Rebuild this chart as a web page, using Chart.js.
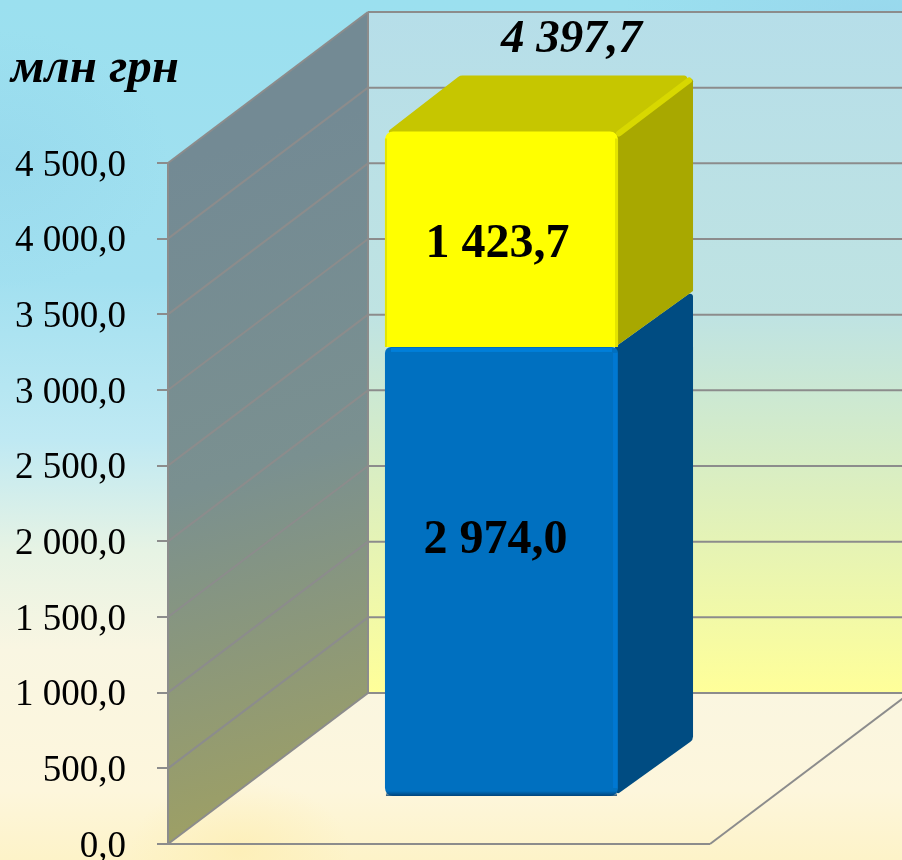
<!DOCTYPE html>
<html>
<head>
<meta charset="utf-8">
<style>
html,body{margin:0;padding:0;width:902px;height:860px;overflow:hidden}
body{background:
 radial-gradient(ellipse 110px 70px at 240px 850px,rgba(253,236,170,.55),rgba(253,236,170,0)),
 radial-gradient(ellipse 170px 130px at 0px 160px,rgba(140,205,232,.3),rgba(140,205,232,0)),
 radial-gradient(ellipse 260px 110px at 880px 20px,rgba(150,210,235,.6),rgba(150,210,235,0)),
 linear-gradient(180deg,#9be0ef 0px,#a2e0f0 280px,#bfe9f3 440px,#e6f3e4 550px,#f9f6e2 650px,#fdf6dc 790px,#fdf3c8 860px)}
canvas{display:block}
</style>
</head>
<body>
<canvas id="c" width="902" height="860"></canvas>
<script src="https://cdn.jsdelivr.net/npm/chart.js@4"></script>
<script>
const categories = ["2020"];
const blueValues = [2974.0];
const yellowValues = [1423.7];
const totalLabel = "4 397,7";
const blueLabel = "2 974,0";
const yellowLabel = "1 423,7";
const unitLabel = "млн грн";
const tickLabels = ["0,0","500,0","1 000,0","1 500,0","2 000,0","2 500,0","3 000,0","3 500,0","4 000,0","4 500,0"];

const WALL = {dx:200, dy:-151};
const BAR = {ox:62.5, oy:-47, dx:75, dy:-56};
const GRID = "#8c8c8c";
const SERIF = '"Liberation Serif","Times New Roman",serif';

function roundedPoly(ctx, pts, r){
  const n = pts.length;
  ctx.beginPath();
  const s = [(pts[0][0]+pts[n-1][0])/2,(pts[0][1]+pts[n-1][1])/2];
  ctx.moveTo(s[0],s[1]);
  for(let i=0;i<n;i++){
    const a = pts[i], b = pts[(i+1)%n];
    ctx.arcTo(a[0],a[1],b[0],b[1],r[i]);
  }
  ctx.closePath();
}
function line(ctx,x1,y1,x2,y2){ctx.beginPath();ctx.moveTo(x1,y1);ctx.lineTo(x2,y2);ctx.stroke();}

const scene = {
  id:"scene",
  beforeDraw(chart){
    const {ctx,chartArea:a,scales:{y}} = chart;
    const L=a.left, R=a.right, B=a.bottom, T=a.top;
    const bl=L+WALL.dx, bt=T+WALL.dy, bb=B+WALL.dy;
    ctx.save();
    let g=ctx.createLinearGradient(0,bt,0,bb);
    g.addColorStop(0,"#b6dee9");g.addColorStop(.45,"#bfe3e2");g.addColorStop(.7,"#dcefbf");g.addColorStop(1,"#ffff99");
    ctx.fillStyle=g;ctx.fillRect(bl,bt,R+WALL.dx-bl,bb-bt);
    g=ctx.createLinearGradient(L,T,bl,B);
    g.addColorStop(0,"#738a94");g.addColorStop(.45,"#7a9090");g.addColorStop(1,"#a3a25e");
    ctx.fillStyle=g;
    ctx.beginPath();ctx.moveTo(L,B);ctx.lineTo(L,T);ctx.lineTo(bl,bt);ctx.lineTo(bl,bb);ctx.closePath();ctx.fill();
    ctx.strokeStyle=GRID;ctx.lineWidth=2;
    y.ticks.forEach(t=>{
      const p=y.getPixelForValue(t.value);
      line(ctx,L,p,bl,p+WALL.dy);
      line(ctx,bl,p+WALL.dy,R+WALL.dx,p+WALL.dy);
    });
    line(ctx,L,T,L,B+1);
    line(ctx,bl,bt,bl,bb);
    line(ctx,L,B,R,B);
    line(ctx,R,B,R+WALL.dx,bb);
    ctx.restore();
  },
  beforeDatasetsDraw(chart){
    const ctx=chart.ctx;
    ctx.save();
    ctx.translate(BAR.ox,BAR.oy);
    const blue=chart.getDatasetMeta(0).data[0], yel=chart.getDatasetMeta(1).data[0];
    const xr=blue.x+blue.width/2, xl=blue.x-blue.width/2;
    const d=BAR.dx, e=BAR.dy;
    ctx.fillStyle="#004c82";
    roundedPoly(ctx,[[xr-3,blue.y],[xr+d,blue.y+e],[xr+d,blue.base+e],[xr-3,blue.base]],[0,3,7,3]);ctx.fill();
    ctx.fillStyle="#a8a800";
    roundedPoly(ctx,[[xr-3,yel.y],[xr+d,yel.y+e],[xr+d,yel.base+e],[xr-3,yel.base]],[0,3,0,0]);ctx.fill();
    ctx.fillStyle="#c6c600";
    roundedPoly(ctx,[[xl,yel.y+2],[xl+d,yel.y+e],[xr+d,yel.y+e],[xr,yel.y+2]],[2,7,3,0]);ctx.fill();
    ctx.strokeStyle="#d8d800";ctx.lineWidth=6;ctx.lineCap="round";
    line(ctx,xr+1,yel.y+2,xr+d-4,yel.y+e+5);
    ctx.restore();
    ctx.save();
    ctx.translate(BAR.ox,BAR.oy);
  },
  afterDatasetsDraw(chart){
    const ctx=chart.ctx;
    const blue=chart.getDatasetMeta(0).data[0], yel=chart.getDatasetMeta(1).data[0];
    const xr=blue.x+blue.width/2, xl=blue.x-blue.width/2;
    ctx.fillStyle="#0078d2";ctx.fillRect(xr-5,blue.y+6,4,blue.base-blue.y-14);
    ctx.fillStyle="#007fda";ctx.fillRect(xl+6,yel.base+1,blue.width-12,4);
    const g=ctx.createLinearGradient(0,blue.base-5,0,blue.base);
    g.addColorStop(0,"rgba(0,60,110,0)");g.addColorStop(1,"rgba(0,60,110,.85)");
    ctx.fillStyle=g;
    ctx.beginPath();ctx.roundRect(xl+1,blue.base-8,blue.width-2,8,{bottomLeft:8,bottomRight:8});ctx.fill();
    ctx.fillStyle="#e4e400";ctx.fillRect(xl,yel.y+7,2,yel.base-yel.y-7);
    ctx.fillRect(xr-3,yel.y+7,3,yel.base-yel.y-7);
    ctx.restore();
    ctx.save();
    ctx.fillStyle="#000";ctx.textAlign="center";ctx.textBaseline="alphabetic";
    ctx.font='bold 48px '+SERIF;
    const shift=BAR.ox, up=BAR.oy;
    ctx.fillText(yellowLabel,yel.x+shift-4,(yel.y+yel.base)/2+up+18);
    ctx.fillText(blueLabel,blue.x+shift-6,(blue.y+blue.base)/2+up-18);
    ctx.font='italic bold 47px '+SERIF;
    ctx.fillText(totalLabel,yel.x+shift+70,yel.y+up-79);
    ctx.textAlign="left";
    ctx.font='italic bold 49px '+SERIF;
    ctx.fillText(unitLabel,11,82);
    ctx.restore();
  }
};

new Chart(document.getElementById("c"),{
  type:"bar",
  data:{
    labels:categories,
    datasets:[
      {label:"blue",data:blueValues,backgroundColor:"#0070c0",borderRadius:{topLeft:6,topRight:6,bottomLeft:8,bottomRight:8},borderSkipped:false,clip:false},
      {label:"yellow",data:yellowValues,backgroundColor:"#ffff00",borderRadius:{topLeft:8,topRight:8,bottomLeft:1,bottomRight:1},borderSkipped:false,clip:false}
    ]
  },
  options:{
    responsive:false,animation:false,
    devicePixelRatio:1,
    layout:{padding:{left:0,top:163,right:192,bottom:16}},
    plugins:{legend:{display:false},tooltip:{enabled:false},title:{display:false}},
    datasets:{bar:{barPercentage:.43,categoryPercentage:1}},
    scales:{
      x:{stacked:true,display:false,afterFit(s){s.height=0;s.paddingLeft=s.paddingRight=0;}},
      y:{
        stacked:true,min:0,max:4500,
        afterFit(s){s.width=168;s.paddingTop=0;s.paddingBottom=0;},
        ticks:{stepSize:500,padding:31,labelOffset:3,color:"#000",font:{family:SERIF,size:37},
          callback(v){return tickLabels[Math.round(v/500)];}},
        grid:{drawOnChartArea:false,drawTicks:true,tickLength:11,color:GRID,lineWidth:2},
        border:{display:false}
      }
    }
  },
  plugins:[scene]
});
</script>
</body>
</html>
